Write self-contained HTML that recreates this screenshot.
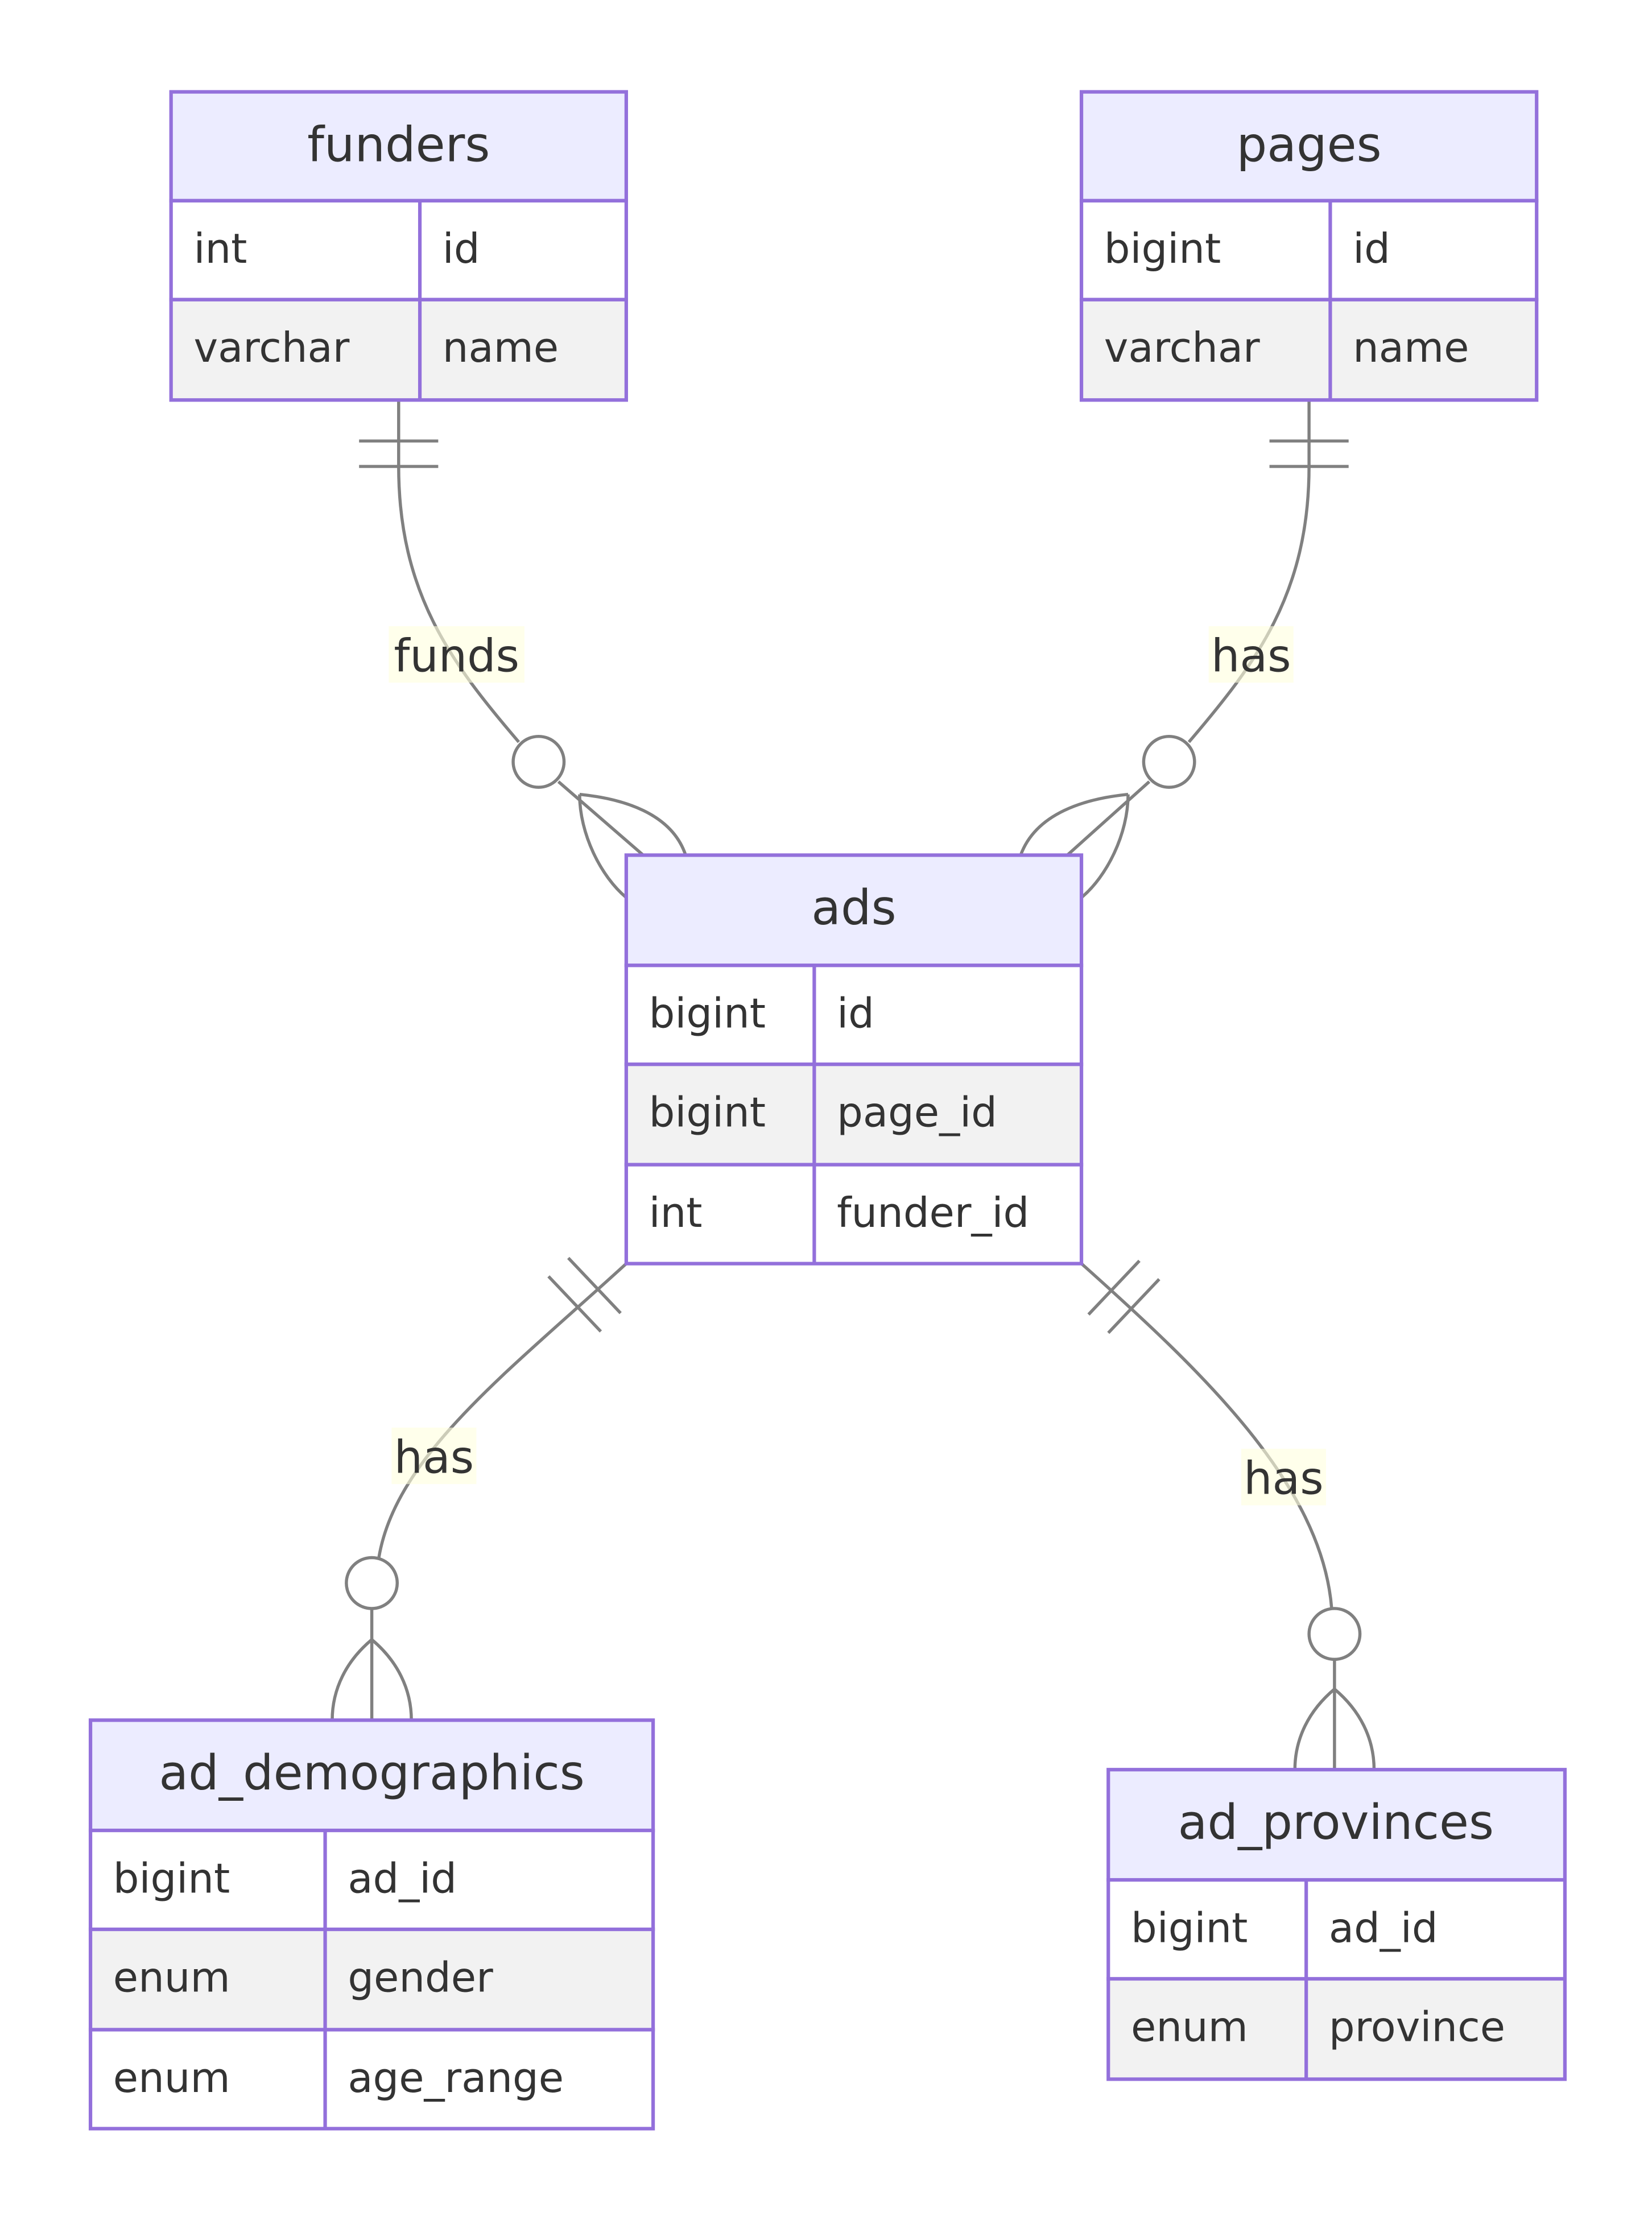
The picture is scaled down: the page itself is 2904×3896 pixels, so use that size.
<!DOCTYPE html>
<html><head><meta charset="utf-8"><style>
html,body{margin:0;padding:0;background:#fff;}
svg{display:block;}
text{font-family:"DejaVu Sans","Liberation Sans",sans-serif;fill:#333;}
</style></head><body>
<svg width="2904" height="3896" viewBox="0 0 1168.6 1567.8" xmlns="http://www.w3.org/2000/svg">
<g fill="none" stroke="#808080" stroke-width="2.2">
<path d="M282,283 L282,330 C282,420 320,470 367,525"/>
<line x1="254" y1="312" x2="310" y2="312"/><line x1="254" y1="330" x2="310" y2="330"/>
<circle cx="381" cy="539" r="18" fill="#fff"/>
<path d="M395,553 L455,605"/>
<path d="M410,562 C410,590 425,620 443,635"/>
<path d="M410,562 C440,565 475,575 485,605"/>
<path d="M926,283 L926,330 C926,420 888,470 841,525"/>
<line x1="898" y1="312" x2="954" y2="312"/><line x1="898" y1="330" x2="954" y2="330"/>
<circle cx="827" cy="539" r="18" fill="#fff"/>
<path d="M813,553 L755,605"/>
<path d="M798,562 C798,590 783,620 765,635"/>
<path d="M798,562 C768,565 733,575 722,605"/>
<path d="M443,894 C360,970 280,1030 268,1102"/>
<line x1="388" y1="903" x2="425" y2="942"/><line x1="402" y1="890" x2="439" y2="929"/>
<circle cx="263" cy="1120" r="18" fill="#fff"/>
<path d="M263,1138 L263,1217"/>
<path d="M263,1160 C245,1175 235,1195 235,1217"/>
<path d="M263,1160 C281,1175 291,1195 291,1217"/>
<path d="M765,894 C850,970 935,1050 942,1138"/>
<line x1="770" y1="930" x2="806" y2="892"/><line x1="784" y1="943" x2="820" y2="905"/>
<circle cx="944" cy="1156" r="18" fill="#fff"/>
<path d="M944,1174 L944,1252"/>
<path d="M944,1195 C926,1210 916,1230 916,1252"/>
<path d="M944,1195 C962,1210 972,1230 972,1252"/>
</g>
<g font-size="32" text-anchor="middle">
<rect x="275" y="443" width="96" height="40" fill="#FFFFDE" opacity="0.6"/><text x="323" y="475">funds</text>
<rect x="855" y="443" width="60" height="40" fill="#FFFFDE" opacity="0.6"/><text x="885" y="475">has</text>
<rect x="277" y="1010" width="60" height="40" fill="#FFFFDE" opacity="0.6"/><text x="307" y="1042">has</text>
<rect x="878" y="1025" width="60" height="40" fill="#FFFFDE" opacity="0.6"/><text x="908" y="1057">has</text>
</g>
<g stroke="#9370DB" stroke-width="2.5">
<rect x="121" y="65" width="322" height="77" fill="#ECECFF"/>
<rect x="121" y="142" width="322" height="70" fill="#fff"/>
<rect x="121" y="212" width="322" height="71" fill="#F2F2F2"/>
<line x1="297" y1="142" x2="297" y2="283"/>
<rect x="765" y="65" width="322" height="77" fill="#ECECFF"/>
<rect x="765" y="142" width="322" height="70" fill="#fff"/>
<rect x="765" y="212" width="322" height="71" fill="#F2F2F2"/>
<line x1="941" y1="142" x2="941" y2="283"/>
<rect x="443" y="605" width="322" height="78" fill="#ECECFF"/>
<rect x="443" y="683" width="322" height="70" fill="#fff"/>
<rect x="443" y="753" width="322" height="71" fill="#F2F2F2"/>
<rect x="443" y="824" width="322" height="70" fill="#fff"/>
<line x1="576" y1="683" x2="576" y2="894"/>
<rect x="64" y="1217" width="398" height="78" fill="#ECECFF"/>
<rect x="64" y="1295" width="398" height="70" fill="#fff"/>
<rect x="64" y="1365" width="398" height="71" fill="#F2F2F2"/>
<rect x="64" y="1436" width="398" height="70" fill="#fff"/>
<line x1="230" y1="1295" x2="230" y2="1506"/>
<rect x="784" y="1252" width="323" height="78" fill="#ECECFF"/>
<rect x="784" y="1330" width="323" height="70" fill="#fff"/>
<rect x="784" y="1400" width="323" height="71" fill="#F2F2F2"/>
<line x1="924" y1="1330" x2="924" y2="1471"/>
</g>
<g font-size="34" text-anchor="middle">
<text x="282" y="114">funders</text>
<text x="926" y="114">pages</text>
<text x="604" y="654">ads</text>
<text x="263" y="1266">ad_demographics</text>
<text x="945" y="1301">ad_provinces</text>
</g>
<g font-size="29">
<text x="137" y="186">int</text><text x="313" y="186">id</text>
<text x="137" y="256">varchar</text><text x="313" y="256">name</text>
<text x="781" y="186">bigint</text><text x="957" y="186">id</text>
<text x="781" y="256">varchar</text><text x="957" y="256">name</text>
<text x="459" y="727">bigint</text><text x="592" y="727">id</text>
<text x="459" y="797">bigint</text><text x="592" y="797">page_id</text>
<text x="459" y="868">int</text><text x="592" y="868">funder_id</text>
<text x="80" y="1339">bigint</text><text x="246" y="1339">ad_id</text>
<text x="80" y="1409">enum</text><text x="246" y="1409">gender</text>
<text x="80" y="1480">enum</text><text x="246" y="1480">age_range</text>
<text x="800" y="1374">bigint</text><text x="940" y="1374">ad_id</text>
<text x="800" y="1444">enum</text><text x="940" y="1444">province</text>
</g>
</svg>
</body></html>
